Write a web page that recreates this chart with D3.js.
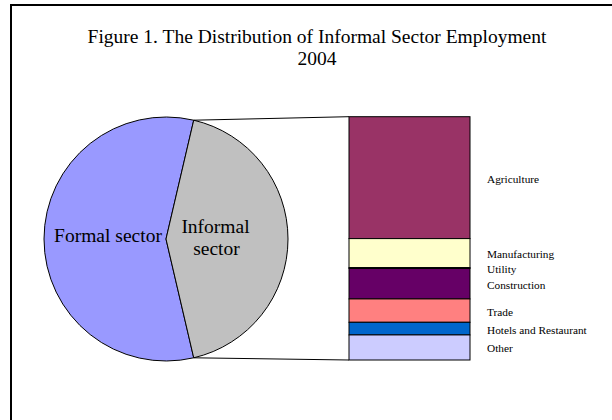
<!DOCTYPE html>
<html>
<head>
<meta charset="utf-8">
<script src="https://cdn.jsdelivr.net/npm/d3@7"></script>
<style>
  html, body { margin: 0; padding: 0; background: #fff; }
  svg { display: block; }
  text { font-family: "Liberation Serif", "Times New Roman", serif; fill: #000; }
</style>
</head>
<body>
<svg id="chart" width="612" height="420"></svg>
<script>
// ---- Data ----
const titleLines = ["Figure 1. The Distribution of Informal Sector Employment", "2004"];
const pieLabels = ["Formal sector", "Informal sector"];
const pieValues = [57.3, 42.7];          // % of total employment
const pieColors = ["#9999FF", "#C0C0C0"];
const sectors = ["Agriculture", "Manufacturing", "Utility", "Construction", "Trade", "Hotels and Restaurant", "Other"];
const sectorValues = [50.1, 11.9, 0.4, 12.5, 9.6, 5.2, 10.3];  // % of informal employment
const sectorColors = ["#993366", "#FFFFCC", "#CCFFFF", "#660066", "#FF8080", "#0066CC", "#CCCCFF"];

// ---- Layout ----
const svg = d3.select("#chart");
svg.append("rect").attr("x", 11).attr("y", 5).attr("width", 640).attr("height", 440)
  .attr("fill", "none").attr("stroke", "#000").attr("stroke-width", 2);

svg.append("text").attr("x", 317).attr("y", 43).attr("text-anchor", "middle")
  .attr("font-size", 19.5).text(titleLines[0]);
svg.append("text").attr("x", 317).attr("y", 65).attr("text-anchor", "middle")
  .attr("font-size", 19.5).text(titleLines[1]);

// ---- Pie ----
const cx = 166, cy = 239, r = 122;
const total = d3.sum(pieValues);
const informalAngle = 2 * Math.PI * pieValues[1] / total;
const start = Math.PI / 2 + informalAngle / 2;
const pie = d3.pie().sort(null).startAngle(start).endAngle(start + 2 * Math.PI);
const arcs = pie(pieValues);
const arc = d3.arc().innerRadius(0).outerRadius(r);
const g = svg.append("g").attr("transform", `translate(${cx},${cy})`);
g.selectAll("path").data(arcs).join("path")
  .attr("d", arc).attr("fill", (d, i) => pieColors[i])
  .attr("stroke", "#000").attr("stroke-width", 1).attr("stroke-linejoin", "round");

svg.append("text").attr("x", 108).attr("y", 242).attr("text-anchor", "middle")
  .attr("font-size", 19.5).text(pieLabels[0]);
const inf = pieLabels[1].split(" ");
svg.append("text").attr("x", 215.5).attr("y", 233).attr("text-anchor", "middle")
  .attr("font-size", 19.5).text(inf[0]);
svg.append("text").attr("x", 216.5).attr("y", 254.5).attr("text-anchor", "middle")
  .attr("font-size", 19.5).text(inf[1]);

// ---- Bar ----
const barX = 349, barW = 121, barTop = 116.7, barBottom = 360;
const y = d3.scaleLinear().domain([0, d3.sum(sectorValues)]).range([barTop, barBottom]);
let cum = 0;
const segs = sectorValues.map((v, i) => { const s = { name: sectors[i], v, y0: cum, y1: cum + v, c: sectorColors[i] }; cum += v; return s; });

// connector lines from the slice edges to the bar corners
const topAngle = Math.PI / 2 - informalAngle / 2;   // d3 angle convention (0 = up, clockwise)
const botAngle = Math.PI / 2 + informalAngle / 2;
const pTop = [cx + r * Math.sin(topAngle), cy - r * Math.cos(topAngle)];
const pBot = [cx + r * Math.sin(botAngle), cy - r * Math.cos(botAngle)];
svg.append("line").attr("x1", pTop[0]).attr("y1", pTop[1]).attr("x2", barX).attr("y2", y(0))
  .attr("stroke", "#000").attr("stroke-width", 1);
svg.append("line").attr("x1", pBot[0]).attr("y1", pBot[1]).attr("x2", barX).attr("y2", y(d3.sum(sectorValues)))
  .attr("stroke", "#000").attr("stroke-width", 1);

svg.selectAll("rect.seg").data(segs).join("rect").attr("class", "seg")
  .attr("x", barX).attr("width", barW)
  .attr("y", d => y(d.y0)).attr("height", d => y(d.y1) - y(d.y0))
  .attr("fill", d => d.c).attr("stroke", "#000").attr("stroke-width", 1);

// labels with simple collision avoidance
const ly = segs.map(d => (y(d.y0) + y(d.y1)) / 2 + 1);
for (let i = 1; i < ly.length; i++) if (ly[i] - ly[i - 1] < 15) ly[i] = ly[i - 1] + 15;
svg.selectAll("text.lab").data(segs).join("text").attr("class", "lab")
  .attr("x", 487).attr("y", (d, i) => ly[i]).attr("dy", "0.35em")
  .attr("font-size", 11.3).text(d => d.name);
</script>
</body>
</html>
